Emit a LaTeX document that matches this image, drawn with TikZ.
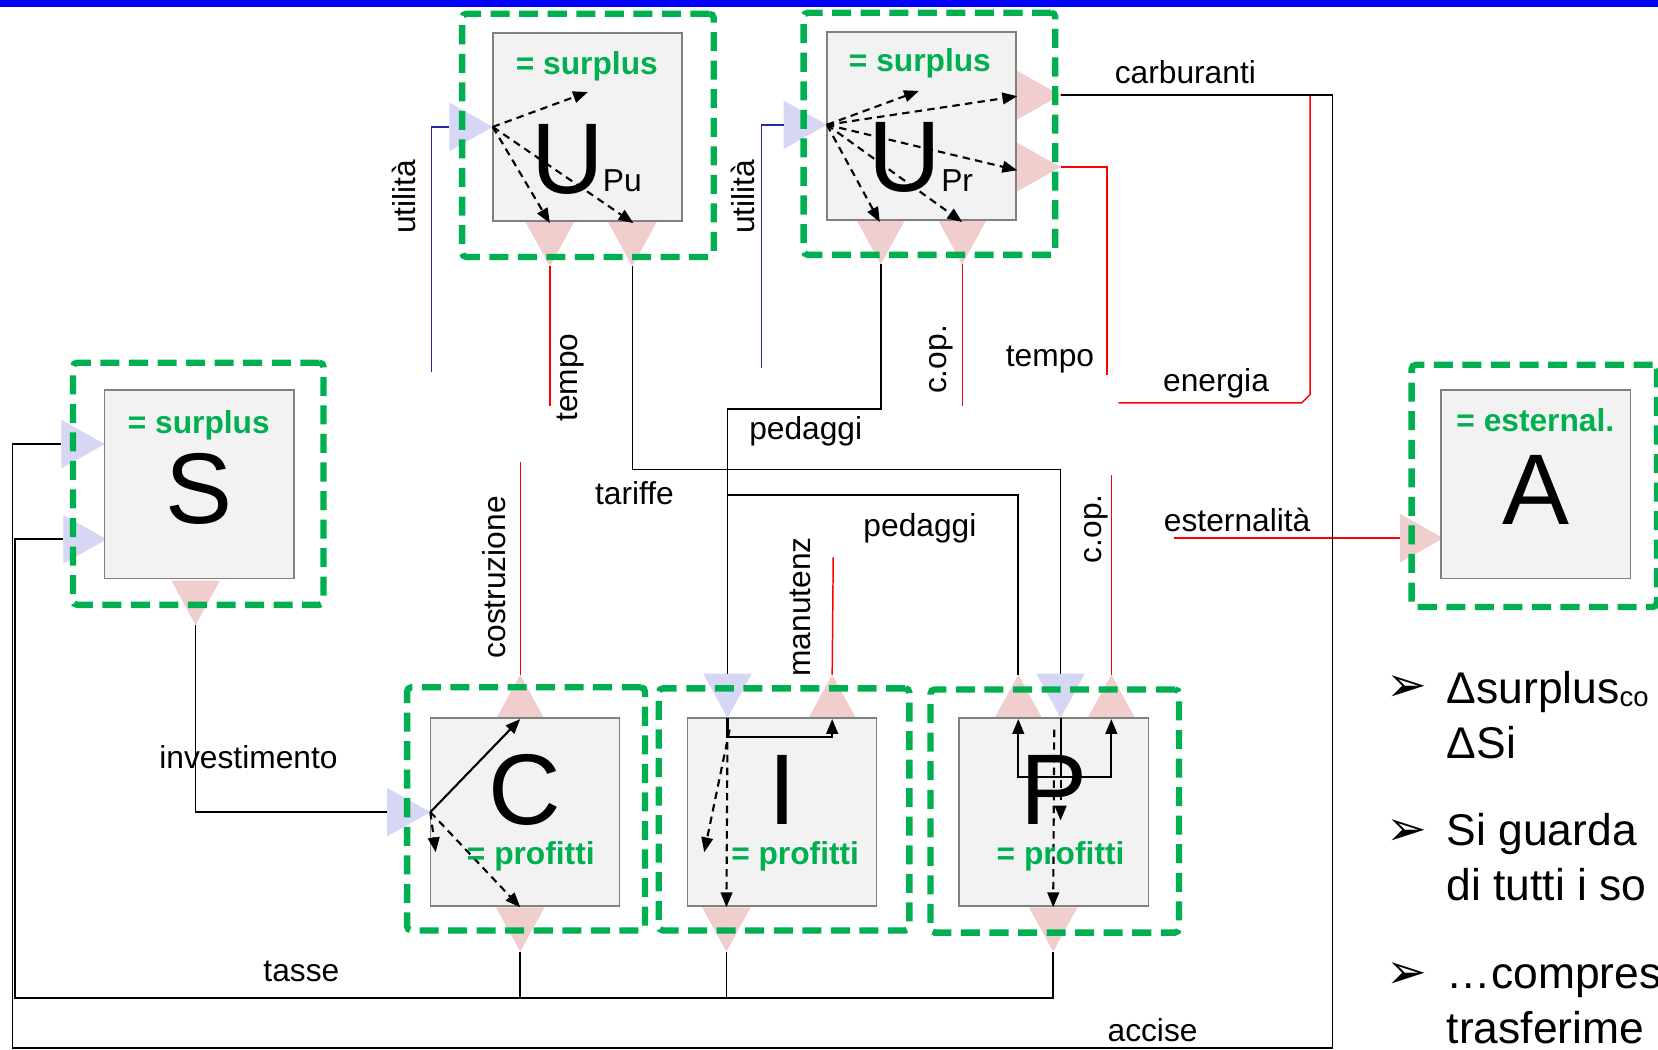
\documentclass[tikz,border=0pt]{standalone}
\usepackage{fontspec}
\setmainfont{Liberation Sans}
\newfontfamily\dvfont{DejaVu Sans}
\usetikzlibrary{arrows.meta,calc}
\definecolor{grn}{RGB}{0,176,80}
\definecolor{pnk}{RGB}{240,206,206}
\definecolor{lav}{RGB}{214,214,245}
\definecolor{bxf}{RGB}{242,242,242}
\definecolor{bxd}{RGB}{128,128,128}
\definecolor{nvy}{RGB}{40,40,160}
\definecolor{topblue}{RGB}{0,0,255}
\newcommand\PortR[3]{%
  \coordinate (#1) at (#2);
  \fill[#3] (#1) -- ++(-41,-23) -- ++(0,46) -- cycle;
  \coordinate (#1b) at ($(#1)+(-41,0)$);}
\newcommand\PortD[3]{%
  \coordinate (#1) at (#2);
  \fill[#3] (#1) -- ++(-23,-42) -- ++(46,0) -- cycle;
  \coordinate (#1b) at ($(#1)+(0,-42)$);}
\newcommand\PortU[3]{%
  \coordinate (#1) at (#2);
  \fill[#3] (#1) -- ++(-23,42) -- ++(46,0) -- cycle;
  \coordinate (#1b) at ($(#1)+(0,42)$);}
\newcommand\lblfont{\fontsize{30}{34}\selectfont}
\newcommand\bigfont{\fontsize{95}{95}\selectfont}
\newcommand\bulfont{\fontsize{42}{46}\selectfont}
\newcommand\arrfont{\dvfont\fontsize{46}{48}\selectfont}
\begin{document}
\begin{tikzpicture}[x=1pt,y=-1pt,
  grp/.style={draw=grn, line width=6pt, dash pattern=on 18pt off 9pt, rounded corners=4pt, outer sep=0pt, inner sep=0pt, anchor=north west},
  gbox/.style={draw=bxd, fill=bxf, line width=1.5pt, outer sep=0pt, inner sep=0pt, anchor=north west, minimum width=179pt, minimum height=178pt},
  lbl/.style={font=\lblfont, inner sep=0pt},
  glbl/.style={font=\lblfont\bfseries, text=grn, inner sep=0pt, anchor=base},
  bigl/.style={font=\bigfont, inner sep=0pt, anchor=base},
  bul/.style={font=\bulfont, inner sep=0pt, anchor=base west},
  bulmark/.style={font=\arrfont, inner sep=0pt, anchor=base west},
  conn/.style={line width=1.5pt, black},
  rconn/.style={line width=1.4pt, red},
  bconn/.style={line width=1.4pt, nvy},
  darr/.style={line width=2pt, dash pattern=on 7pt off 5pt, -{Triangle[length=14pt,width=11pt]}},
  sarr/.style={line width=2pt, -{Triangle[length=14pt,width=11pt]}}]
\useasboundingbox (0,0) rectangle (1568,993);
\clip (0,0) rectangle (1568,993);
\fill[topblue] (0,0) rectangle (1568,7);

% ports (triangles)
\PortR{upuIn}{466,120}{lav}
\PortD{upuO1}{520,252}{pnk}
\PortD{upuO2}{598,252}{pnk}
\PortR{uprIn}{782,118}{lav}
\PortR{uprR1}{1003,90}{pnk}
\PortR{uprR2}{1003,158}{pnk}
\PortD{uprO1}{833,250}{pnk}
\PortD{uprO2}{910,250}{pnk}
\PortR{sIn1}{99,420}{lav}
\PortR{sIn2}{101,510}{lav}
\PortD{sBot}{185,591}{pnk}
\PortR{aIn}{1365,509}{pnk}
\PortR{cIn}{407,768}{lav}
\PortU{cTop}{492,638}{pnk}
\PortD{cBot}{492,900}{pnk}
\PortD{iIn}{688,679}{lav}
\PortU{iTop}{787,638}{pnk}
\PortD{iBot}{687,900}{pnk}
\PortU{pTop1}{963,638}{pnk}
\PortD{pIn}{1003,679}{lav}
\PortU{pTop2}{1051,638}{pnk}
\PortD{pBot}{996,900}{pnk}

% gray boxes
\node[gbox] (bUpu) at (466,31) {};
\node[gbox] (bUpr) at (782,30) {};
\node[gbox] (bS) at (99,369) {};
\node[gbox] (bA) at (1363,369) {};
\node[gbox] (bC) at (407,679) {};
\node[gbox] (bI) at (650,679) {};
\node[gbox] (bP) at (907,679) {};

% green dashed groups
\node[grp, minimum width=238pt, minimum height=230pt] (gUpu) at (437,13) {};
\node[grp, minimum width=238pt, minimum height=229pt] (gUpr) at (760,12) {};
\node[grp, minimum width=237pt, minimum height=229pt] (gS) at (69,343) {};
\node[grp, minimum width=232pt, minimum height=229pt] (gA) at (1335,345) {};
\node[grp, minimum width=225pt, minimum height=230pt] (gC) at (385,650) {};
\node[grp, minimum width=237pt, minimum height=229pt] (gI) at (623,651) {};
\node[grp, minimum width=235pt, minimum height=230pt] (gP) at (880,652) {};

% free ends
\coordinate (fUpuBlue) at (408,352);
\coordinate (fUprBlue) at (720,348);
\coordinate (fTempo1) at (520,384);
\coordinate (fCop1) at (910,384);
\coordinate (fTempo2) at (1047,355);
\coordinate (fEnergia) at (1058,381);
\coordinate (fCostr) at (492,437);
\coordinate (fManut) at (788,527);
\coordinate (fCop2) at (1051,449);
\coordinate (fEster) at (1110,509);

% blue connectors
\draw[bconn] (upuInb) -| (fUpuBlue);
\draw[bconn] (uprInb) -| (fUprBlue);

% red connectors
\draw[rconn] (upuO1) -- (fTempo1);
\draw[rconn] (uprO2) -- (fCop1);
\draw[rconn] (uprR2) -- (1047,158) -- (fTempo2);
\draw[rconn] (uprR1) -- (1239,90) -- (1239,373) -- (1231,381) -- (fEnergia);
\draw[rconn] (cTop) -- (fCostr);
\draw[rconn] (iTop) -- (fManut);
\draw[rconn] (pTop2) -- (fCop2);
\draw[rconn] (fEster) -- (aInb);

% black connectors
\draw[conn] (uprR1) -- (1260,90) -- (1260,991) -- (12,991) |- (sIn1b);
\draw[conn] (sIn2b) -| (14,944) -| (pBot);
\draw[conn] (cBot) -- (492,944);
\draw[conn] (iBot) -- (687,944);
\draw[conn] (upuO2) -- (598,444) -| (pInb);
\draw[conn] (uprO1) -- (833,387) -| (iInb);
\draw[conn] (pTop1) -- (963,468) -| (iInb);
\draw[conn] (sBot) |- (cInb);

% internal arrows
\draw[darr] (upuIn) -- (556,87);
\draw[darr] (upuIn) -- (520,211);
\draw[darr] (upuIn) -- (599,211);
\draw[darr] (uprIn) -- (869,86);
\draw[darr] (uprIn) -- (962,91);
\draw[darr] (uprIn) -- (962,161);
\draw[darr] (uprIn) -- (832,210);
\draw[darr] (uprIn) -- (910,210);
\draw[sarr] (cIn) -- (cTopb);
\draw[darr] (cIn) -- (412,806);
\draw[darr] (cIn) -- (cBotb);
\draw[sarr] (iIn) -- (688,697) -| (iTopb);
\draw[darr] (690,690) -- (666,806);
\draw[darr] (688,690) -- (iBotb);
\draw[conn, line width=2pt] (pIn) -- (1003,735);
\draw[sarr] (1003,735) -| (pTop1b);
\draw[sarr] (1003,735) -| (pTop2b);
\draw[darr] (1003,690) -- (1003,776);
\draw[darr] (997,690) -- (pBotb);

% box texts
\node[glbl] (tUpu) at (555,70) {= surplus};
\node[bigl] (lUpu) at (537,183) {U};
\node[lbl, anchor=base west] (sUpu) at (570,181) {Pu};
\node[glbl] (tUpr) at (870,68) {= surplus};
\node[bigl] (lUpr) at (856,181) {U};
\node[lbl, anchor=base west] (sUpr) at (890,181) {Pr};
\node[glbl] (tS) at (188,410) {= surplus};
\node[bigl] (lS) at (188,495) {S};
\node[glbl] (tA) at (1452,408) {= esternal.};
\node[bigl] (lA) at (1453,496) {A};
\node[bigl] (lC) at (496,780) {C};
\node[glbl] (tC) at (502,818) {= profitti};
\node[bigl] (lI) at (740,780) {I};
\node[glbl] (tI) at (752,818) {= profitti};
\node[bigl] (lP) at (997,780) {P};
\node[glbl] (tP) at (1003,818) {= profitti};

% connector labels
\node[lbl, rotate=90] (uti1) at (382,186) {utilità};
\node[lbl, rotate=90] (uti2) at (703,186) {utilità};
\node[lbl, rotate=90] (tem1) at (540,357) {tempo};
\node[lbl, rotate=90] (cop1) at (890,340) {c.op.};
\node[lbl, rotate=90] (cost) at (467,546) {costruzione};
\node[lbl, rotate=90] (manu) at (757,574) {manutenz};
\node[lbl, rotate=90] (cop2) at (1037,500) {c.op.};
\node[lbl, anchor=base] (carb) at (1121,79) {carburanti};
\node[lbl, anchor=base] (tem2) at (993,347) {tempo};
\node[lbl, anchor=base] (ener) at (1150,370) {energia};
\node[lbl, anchor=base] (peda1) at (762,416) {pedaggi};
\node[lbl, anchor=base] (tari) at (600,477) {tariffe};
\node[lbl, anchor=base] (peda2) at (870,507) {pedaggi};
\node[lbl, anchor=base] (este) at (1170,503) {esternalità};
\node[lbl, anchor=base] (inve) at (235,727) {investimento};
\node[lbl, anchor=base] (tass) at (285,928) {tasse};
\node[lbl, anchor=base] (acci) at (1090,985) {accise};

% bullets
\node[bulmark] (bu1) at (1311,663) {➢};
\node[bulmark] (bu2) at (1311,800) {➢};
\node[bulmark] (bu3) at (1311,935) {➢};
\node[bul] (r1) at (1368,665) {Δsurplus{\fontsize{26}{28}\selectfont\raisebox{-3pt}{co}}};
\node[bul] (r2) at (1368,717) {ΔSi};
\node[bul] (r3) at (1368,800) {Si guarda};
\node[bul] (r4) at (1368,852) {di tutti i so};
\node[bul] (r5) at (1368,935) {…compres};
\node[bul] (r6) at (1368,987) {trasferime};
\end{tikzpicture}
\end{document}
